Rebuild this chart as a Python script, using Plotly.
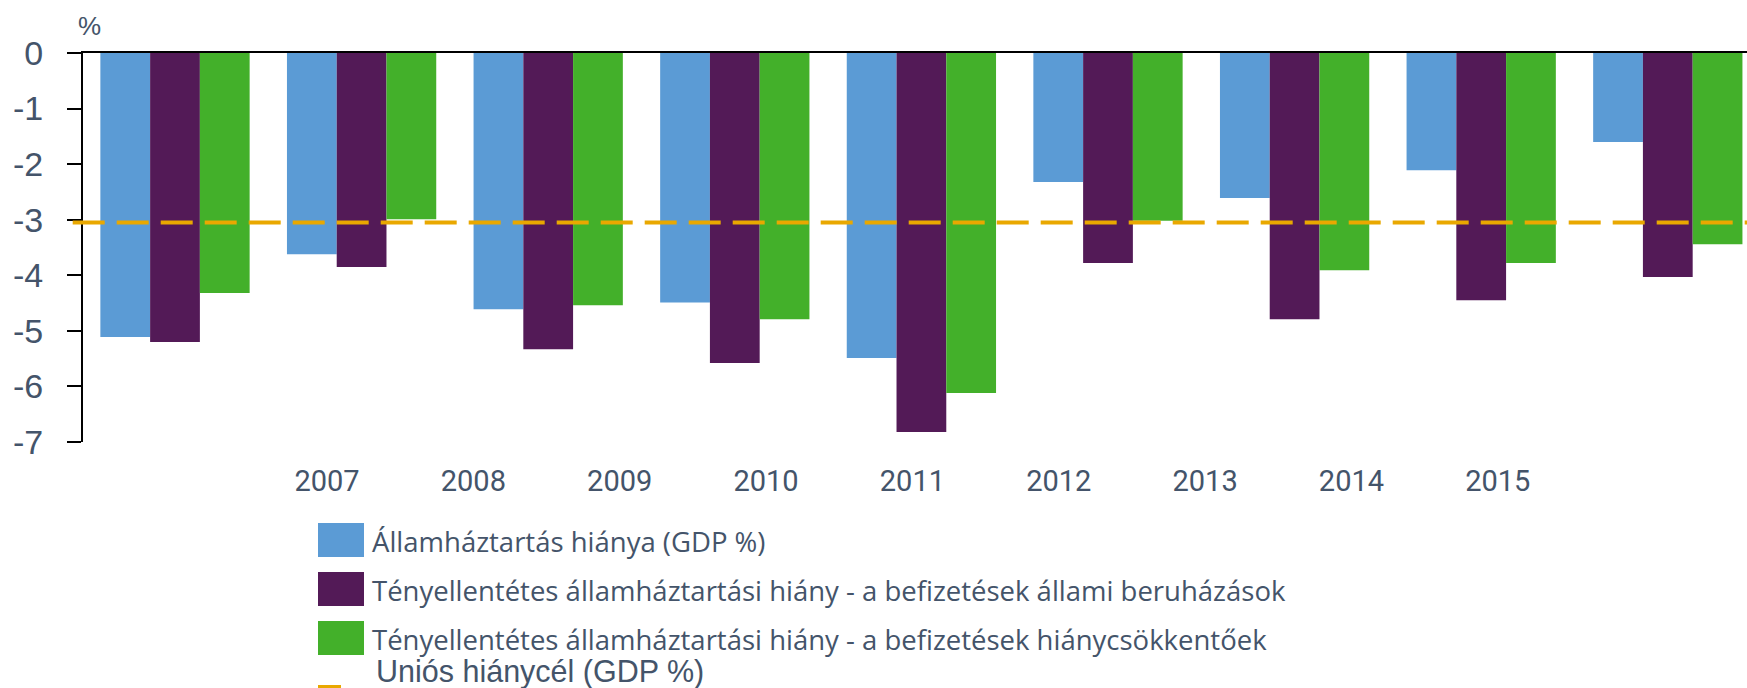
import plotly.graph_objects as go

# ---------------- data ----------------
years = ["2007", "2008", "2009", "2010", "2011", "2012", "2013", "2014", "2015"]
tick_labels = ["2007", "2008", "2009", "2010", "2011", "2012", "2013", "2014", "2015"]

name_deficit = "Államháztartás hiánya (GDP %)"
name_cf_invest = "Tényellentétes államháztartási hiány - a befizetések állami beruházások"
name_cf_reduce = "Tényellentétes államháztartási hiány - a befizetések hiánycsökkentőek"
name_target = "Uniós hiánycél (GDP %)"

deficit = [-5.11, -3.62, -4.61, -4.49, -5.49, -2.32, -2.61, -2.11, -1.60]
cf_invest = [-5.20, -3.85, -5.33, -5.58, -6.82, -3.78, -4.79, -4.45, -4.03]
cf_reduce = [-4.32, -2.99, -4.54, -4.79, -6.12, -3.02, -3.91, -3.78, -3.44]
eu_target = -3.05

y_ticks = [0, -1, -2, -3, -4, -5, -6, -7]
y_tick_text = ["0", "-1", "-2", "-3", "-4", "-5", "-6", "-7"]
y_unit = "%"

# ---------------- styling ----------------
C_BLUE = "#5B9BD5"
C_PURPLE = "#531A57"
C_GREEN = "#43B02A"
C_GOLD = "#E9A800"
C_TEXT = "#44546A"

W, H = 1747, 688
ML, MR, MT, MB = 83, 0, 53, 246
PW = W - ML - MR
PH = H - MT - MB


def px_x(X):
    return (X - ML) / PW


def px_y(Y):
    return (H - MB - Y) / PH


fig = go.Figure()
for name, vals, col in [(name_deficit, deficit, C_BLUE),
                        (name_cf_invest, cf_invest, C_PURPLE),
                        (name_cf_reduce, cf_reduce, C_GREEN)]:
    fig.add_trace(go.Bar(x=years, y=vals, name=name,
                         marker=dict(color=col, line=dict(width=0)),
                         showlegend=False))

# invisible carrier trace so that the year label axis is drawn
n_lab = len(tick_labels)
fig.add_trace(go.Scatter(x=list(range(n_lab)), y=[None] * n_lab, xaxis="x2", yaxis="y",
                         mode="markers", marker=dict(opacity=0), showlegend=False,
                         hoverinfo="skip"))

shapes = []
# EU target dashed line
shapes.append(dict(type="line", xref="paper", yref="y",
                   x0=px_x(72.7), x1=1.0, y0=eu_target, y1=eu_target,
                   line=dict(color=C_GOLD, width=4, dash="32px,12px"),
                   layer="above"))

# manual legend (large swatches like the reference)
legend_rows = [
    (name_deficit, C_BLUE, 540),
    (name_cf_invest, C_PURPLE, 589),
    (name_cf_reduce, C_GREEN, 638),
]
annotations = []
for name, col, yc in legend_rows:
    shapes.append(dict(type="rect", xref="paper", yref="paper",
                       x0=px_x(318), x1=px_x(364), y0=px_y(yc + 17), y1=px_y(yc - 17),
                       fillcolor=col, line=dict(width=0)))
    annotations.append(dict(text=name, xref="paper", yref="paper",
                            x=px_x(370), y=px_y(yc + 1), xanchor="left", yanchor="middle",
                            showarrow=False,
                            font=dict(family="Open Sans", size=27.5, color=C_TEXT)))
shapes.append(dict(type="line", xref="paper", yref="paper",
                   x0=px_x(318), x1=px_x(341), y0=px_y(687), y1=px_y(687),
                   line=dict(color=C_GOLD, width=4)))
annotations.append(dict(text=name_target, xref="paper", yref="paper",
                        x=px_x(374), y=px_y(671.5), xanchor="left", yanchor="middle",
                        showarrow=False,
                        font=dict(family="Liberation Sans, Arial", size=30.5, color=C_TEXT)))
annotations.append(dict(text=y_unit, xref="paper", yref="paper",
                        x=px_x(89.5), y=px_y(26), xanchor="center", yanchor="middle",
                        showarrow=False,
                        font=dict(family="Liberation Sans, Arial", size=26, color=C_TEXT)))

spacing_bars = 186.6
c0_bars = 175.0
spacing_lab = 146.35
c0_lab = 327.0

fig.update_layout(
    width=W, height=H,
    margin=dict(l=ML, r=MR, t=MT, b=MB, pad=0),
    paper_bgcolor="white", plot_bgcolor="white",
    barmode="group", bargap=0.2, bargroupgap=0.0,
    showlegend=False,
    shapes=shapes, annotations=annotations,
    xaxis=dict(type="category", side="top",
               range=[(ML - c0_bars) / spacing_bars, (W - MR - c0_bars) / spacing_bars],
               showline=True, linecolor="black", linewidth=2,
               showticklabels=False, ticks="", showgrid=False, zeroline=False),
    xaxis2=dict(overlaying="x", anchor="y", side="bottom", type="linear",
                range=[(ML - c0_lab) / spacing_lab, (W - MR - c0_lab) / spacing_lab],
                tickmode="array", tickvals=list(range(n_lab)), ticktext=tick_labels,
                showline=False, ticks="", showgrid=False, zeroline=False,
                ticklabelstandoff=19,
                tickfont=dict(family="Roboto", size=29, color=C_TEXT)),
    yaxis=dict(range=[-7, 0], tickmode="array", tickvals=y_ticks, ticktext=y_tick_text,
               ticks="outside", ticklen=14, tickwidth=2, tickcolor="black",
               showline=True, linecolor="black", linewidth=2,
               showgrid=False, zeroline=False,
               ticklabelstandoff=17,
               tickfont=dict(family="Liberation Sans, Arial", size=34, color=C_TEXT)),
)

fig.write_html("out.html", config={"displayModeBar": False},
               post_script="document.body.style.margin='0';")
